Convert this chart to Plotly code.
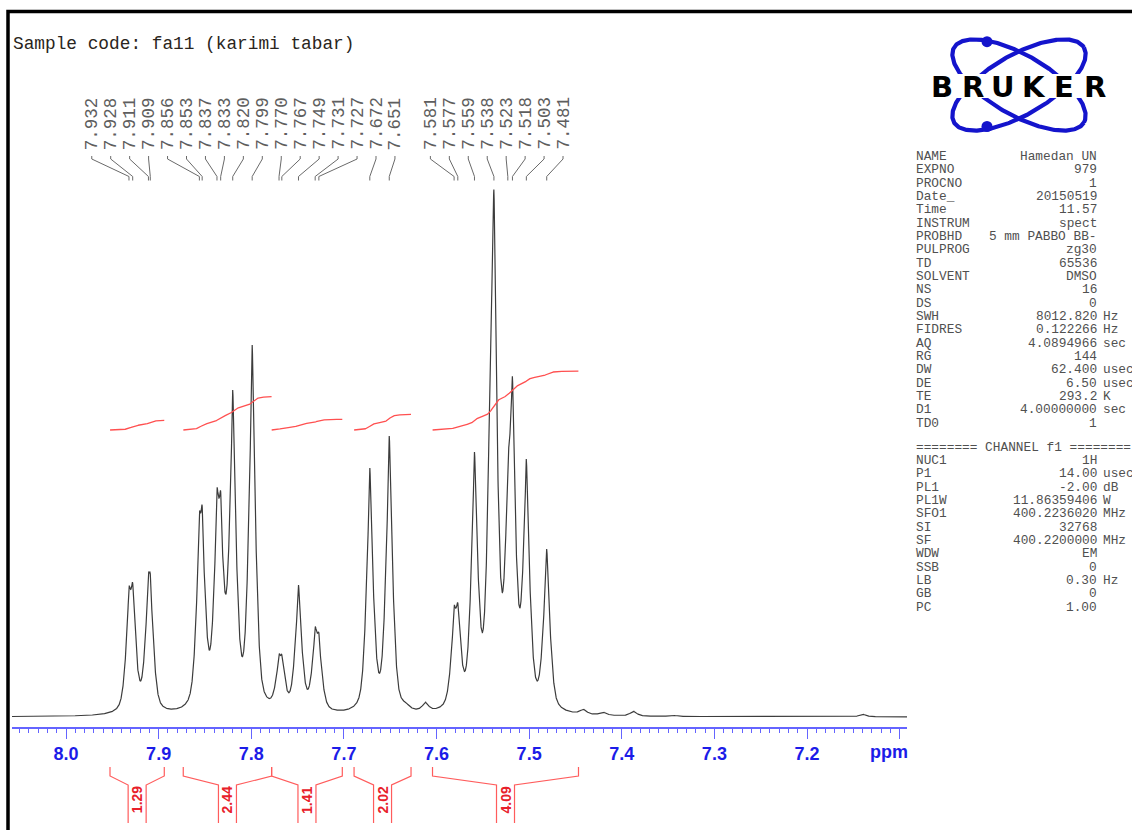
import numpy as np
import plotly.graph_objects as go

W, H = 1132, 830

# ---------------------------------------------------------------- data
# picked peaks: chemical shift (ppm) and observed peak height (intensity units)
peak_ppm = [7.932, 7.928, 7.911, 7.909, 7.856, 7.853, 7.837, 7.833, 7.820, 7.799,
            7.770, 7.767, 7.749, 7.731, 7.727, 7.672, 7.651,
            7.581, 7.577, 7.559, 7.538, 7.523, 7.518, 7.503, 7.481]
peak_height = [130, 134, 144, 143, 204, 211, 228, 225, 327, 372,
               63, 62, 132, 90, 84, 249, 281,
               111, 114, 265, 527, 263, 340, 258, 168]

# unpicked shoulder and small baseline lines
minor_ppm = [7.5420, 7.633, 7.612, 7.4415, 7.420, 7.3875, 7.345, 7.140]
minor_height = [372, 15, 15, 8, 5, 6, 2, 3]

# integral regions (ppm) and normalised integrals
integral_from = [7.9525, 7.8734, 7.7780, 7.6890, 7.6043]
integral_to = [7.8939, 7.7780, 7.7017, 7.6275, 7.4467]
integral_value = [1.29, 2.44, 1.41, 2.02, 4.09]

# frequency axis
tick_vals = [8.0, 7.9, 7.8, 7.7, 7.6, 7.5, 7.4, 7.3, 7.2, 7.1]
tick_text = ["8.0", "7.9", "7.8", "7.7", "7.6", "7.5", "7.4", "7.3", "7.2", ""]

title_text = "Sample code: fa11 (karimi tabar)"

# acquisition / processing parameters
acq_names = ["NAME", "EXPNO", "PROCNO", "Date_", "Time", "INSTRUM", "PROBHD", "PULPROG",
             "TD", "SOLVENT", "NS", "DS", "SWH", "FIDRES", "AQ", "RG", "DW", "DE",
             "TE", "D1", "TD0"]
acq_values = ["Hamedan UN", "979", "1", "20150519", "11.57", "spect", "5 mm PABBO BB-",
              "zg30", "65536", "DMSO", "16", "0", "8012.820", "0.122266", "4.0894966",
              "144", "62.400", "6.50", "293.2", "4.00000000", "1"]
acq_units = ["", "", "", "", "", "", "", "", "", "", "", "", "Hz", "Hz", "sec", "",
             "usec", "usec", "K", "sec", ""]
chan_header = "======== CHANNEL f1 ========"
chan_names = ["NUC1", "P1", "PL1", "PL1W", "SFO1", "SI", "SF", "WDW", "SSB", "LB", "GB", "PC"]
chan_values = ["1H", "14.00", "-2.00", "11.86359406", "400.2236020", "32768",
               "400.2200000", "EM", "0", "0.30", "0", "1.00"]
chan_units = ["", "usec", "dB", "W", "MHz", "", "MHz", "", "", "Hz", "", ""]

# ---------------------------------------------------------------- styles
SPEC_COLOR = "#3c3c3c"
INT_COLOR = "#ff5050"
BRACKET_COLOR = "#ff5c5c"
INT_LABEL_COLOR = "#e8202a"
AXIS_COLOR = "#6464ff"
TICKLABEL_COLOR = "#1c1ce8"
LOGO_BLUE = "#1414cc"
PX_PER_PPM = 926.25
X0_PX, X0_PPM = 66.0, 8.0           # where 8.0 ppm sits on the page
BASE_PX = 717.0                      # spectrum baseline (page px)
AXIS_PX = 727.0
INT_BASE = 287.0                     # integral traces start height
INT_RISE_PER_UNIT = [7.5, 13.65, 7.6, 7.77, 14.4]


def ppm2px(p):
    return X0_PX + (X0_PPM - np.asarray(p, dtype=float)) * PX_PER_PPM


def px2ppm(x):
    return X0_PPM - (np.asarray(x, dtype=float) - X0_PX) / PX_PER_PPM


def line_shape(d):
    """Peak profile: narrow Lorentzian top on a broader Gauss/Lorentz base."""
    n = 1.0 / (1.0 + (2.0 * d / 0.0022) ** 2)
    g = np.exp(-4.0 * np.log(2.0) * (d / 0.0095) ** 2)
    l = 1.0 / (1.0 + (2.0 * d / 0.010) ** 2)
    return 0.25 * n + 0.40 * g + 0.35 * l


# amplitudes such that the summed spectrum reaches the observed heights
pos = np.array(peak_ppm + minor_ppm)
tgt = np.array(peak_height + minor_height, dtype=float)
active = np.ones(len(pos), bool)
amp = np.zeros(len(pos))
for _ in range(12):
    idx = np.where(active)[0]
    M = line_shape(pos[idx][:, None] - pos[idx][None, :])
    a = np.linalg.solve(M, tgt[idx])
    amp[:] = 0
    amp[idx] = a
    if (a >= 0).all():
        break
    active[idx[a < 0]] = False

x_lo, x_hi = float(px2ppm(907)), float(px2ppm(12))
ppm = np.linspace(x_hi, x_lo, 9000)
spec = (amp[None, :] * line_shape(ppm[:, None] - pos[None, :])).sum(axis=1)

fig = go.Figure()

# spectrum
fig.add_trace(go.Scatter(x=ppm, y=spec, mode="lines",
                         line=dict(color=SPEC_COLOR, width=1.2),
                         hoverinfo="skip", xaxis="x", yaxis="y"))

# integral traces
for i in range(len(integral_value)):
    m = (ppm <= integral_from[i]) & (ppm >= integral_to[i])
    cum = np.cumsum(spec[m])
    frac = (cum - cum[0]) / (cum[-1] - cum[0])
    yi = INT_BASE + integral_value[i] * INT_RISE_PER_UNIT[i] * frac
    fig.add_trace(go.Scatter(x=ppm[m], y=yi, mode="lines",
                             line=dict(color=INT_COLOR, width=1.3),
                             hoverinfo="skip", xaxis="x", yaxis="y"))

# ---------------------------------------------------------------- overlay (page px)
ann = []
shapes = []


def spread_labels(px, step):
    order = np.argsort(px)
    clusters = [[int(k)] for k in order]
    merged = True
    while merged:
        merged = False
        spans = []
        for c in clusters:
            ctr = float(np.mean([px[k] for k in c]))
            half = (len(c) - 1) / 2.0 * step
            spans.append((ctr - half, ctr + half))
        for j in range(len(clusters) - 1):
            if spans[j + 1][0] - spans[j][1] < step:
                clusters[j] = clusters[j] + clusters[j + 1]
                del clusters[j + 1]
                merged = True
                break
    out = np.zeros(len(px))
    for c in clusters:
        c = sorted(c, key=lambda k: px[k])
        ctr = float(np.mean([px[k] for k in c]))
        for r, k in enumerate(c):
            out[k] = ctr + (r - (len(c) - 1) / 2.0) * step
    return out


peak_px = ppm2px(peak_ppm)
label_px = spread_labels(peak_px, 18.95)
lx, ly = [], []
for p, l, t in zip(peak_px, label_px, peak_ppm):
    lx += [l, l, p, p, None]
    ly += [156, 159, 176.5, 180.5, None]
    ann.append(dict(x=l, y=123.5, text=f"{t:.3f}", textangle=-90, showarrow=False,
                    xref="x2", yref="y2", xanchor="center", yanchor="middle",
                    font=dict(family="Liberation Mono", size=17.5, color="#5e5e5e")))
fig.add_trace(go.Scatter(x=lx, y=ly, mode="lines", line=dict(color="#6a6a6a", width=1),
                         hoverinfo="skip", xaxis="x2", yaxis="y2"))

# integral brackets under the axis
bx, by = [], []
gap = 9.0
for i in range(len(integral_value)):
    a = float(ppm2px(integral_from[i]))
    b = float(ppm2px(integral_to[i]))
    c = (a + b) / 2.0
    bx += [a, a, c - gap, c - gap, None, b, b, c + gap, c + gap, None]
    by += [767, 776, 785, 823, None, 767, 776, 785, 823, None]
    ann.append(dict(x=c, y=800, text=f"<b>{integral_value[i]:.2f}</b>", textangle=-90,
                    showarrow=False, xref="x2", yref="y2", xanchor="center", yanchor="middle",
                    font=dict(family="Liberation Sans", size=14, color=INT_LABEL_COLOR)))
fig.add_trace(go.Scatter(x=bx, y=by, mode="lines", line=dict(color=BRACKET_COLOR, width=1.2),
                         hoverinfo="skip", xaxis="x2", yaxis="y2"))

# Bruker logo: two crossed orbits, two electrons, lettering
t = np.linspace(0, 2 * np.pi, 361)
cx, cy, ra, rb = 1019.0, 85.0, 75.0, 30.0
for ang in (np.radians(30), -np.radians(30)):
    ex = cx + ra * np.cos(t) * np.cos(ang) - rb * np.sin(t) * np.sin(ang)
    ey = cy + ra * np.cos(t) * np.sin(ang) + rb * np.sin(t) * np.cos(ang)
    fig.add_trace(go.Scatter(x=ex, y=ey, mode="lines", line=dict(color=LOGO_BLUE, width=4.2),
                             hoverinfo="skip", xaxis="x2", yaxis="y2"))
fig.add_trace(go.Scatter(x=[987, 987], y=[41.7, 126.5], mode="markers",
                         marker=dict(color=LOGO_BLUE, size=11),
                         hoverinfo="skip", xaxis="x2", yaxis="y2"))
shapes.append(dict(type="rect", xref="x2", yref="y2", x0=925, x1=1114, y0=74, y1=98,
                   fillcolor="white", line=dict(width=0), layer="above"))
for k, ch in enumerate("BRUKER"):
    ann.append(dict(x=942 + k * 30.6, y=86.5, text=f"<b>{ch}</b>", showarrow=False,
                    xref="x2", yref="y2", xanchor="center", yanchor="middle",
                    font=dict(family="DejaVu Sans", size=29, color="black")))

# title
ann.append(dict(x=11, y=43.5, text=title_text, showarrow=False, xref="x2", yref="y2",
                xanchor="left", yanchor="middle",
                font=dict(family="Liberation Mono", size=17.8, color="#2a2520")))

# parameter listing
pfont = dict(family="Liberation Mono", size=12.8, color="#505050")
rows = list(zip(acq_names, acq_values, acq_units))
row_y = [156.5 + 13.33 * k for k in range(len(rows))]
ch_y0 = 447.2
ann.append(dict(x=914, y=ch_y0, text=chan_header, showarrow=False, xref="x2", yref="y2",
                xanchor="left", yanchor="middle", font=pfont))
rows += list(zip(chan_names, chan_values, chan_units))
row_y += [ch_y0 + 13.33 * (k + 1) for k in range(len(chan_names))]
for (n, v, u), yy in zip(rows, row_y):
    ann.append(dict(x=914, y=yy, text=n, showarrow=False, xref="x2", yref="y2",
                    xanchor="left", yanchor="middle", font=pfont))
    ann.append(dict(x=1099, y=yy, text=v, showarrow=False, xref="x2", yref="y2",
                    xanchor="right", yanchor="middle", font=pfont))
    if u:
        ann.append(dict(x=1101, y=yy, text=u, showarrow=False, xref="x2", yref="y2",
                        xanchor="left", yanchor="middle", font=pfont))

# axis unit
ann.append(dict(x=889, y=752, text="<b>ppm</b>", showarrow=False, xref="x2", yref="y2",
                xanchor="center", yanchor="middle",
                font=dict(family="Liberation Sans", size=18, color=TICKLABEL_COLOR)))

# page frame
shapes.append(dict(type="rect", xref="x2", yref="y2", x0=8, x1=1150, y0=11.5, y1=850,
                   line=dict(color="black", width=3.5), fillcolor="rgba(0,0,0,0)"))

fig.update_layout(
    width=W, height=H, margin=dict(l=0, r=0, t=0, b=0),
    paper_bgcolor="white", plot_bgcolor="rgba(0,0,0,0)", showlegend=False,
    xaxis=dict(domain=[12 / W, 907 / W], range=[x_hi, x_lo], anchor="y",
               showgrid=False, zeroline=False, showline=True, linecolor=AXIS_COLOR,
               linewidth=1.5, ticks="outside", ticklen=10, tickwidth=1.2,
               tickcolor=AXIS_COLOR, tickmode="array", tickvals=tick_vals,
               ticktext=[f"<b>{s}</b>" if s else "" for s in tick_text],
               tickfont=dict(family="Liberation Sans", size=18, color=TICKLABEL_COLOR),
               minor=dict(ticks="outside", ticklen=4, tickwidth=1, tickcolor=AXIS_COLOR,
                          tickmode="linear", tick0=8.0, dtick=0.01)),
    yaxis=dict(domain=[(H - AXIS_PX) / H, (H - 10) / H],
               range=[BASE_PX - AXIS_PX, BASE_PX - 10], visible=False, anchor="x"),
    xaxis2=dict(domain=[0, 1], range=[0, W], visible=False, anchor="y2"),
    yaxis2=dict(domain=[0, 1], range=[H, 0], visible=False, anchor="x2"),
    annotations=ann, shapes=shapes,
)

fig.write_html("out.html")
